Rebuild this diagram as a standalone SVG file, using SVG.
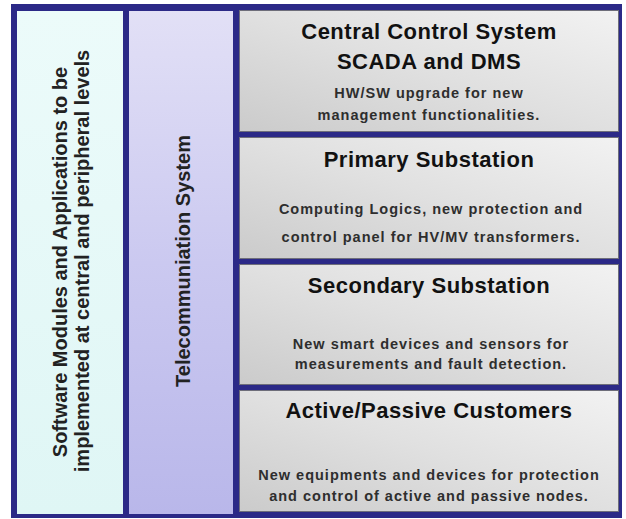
<svg xmlns="http://www.w3.org/2000/svg" width="626" height="519" viewBox="0 0 626 519">
<defs>
<linearGradient id="gBox" x1="0" y1="1" x2="1" y2="0">
<stop offset="0" stop-color="#cbcbcb"/>
<stop offset="0.5" stop-color="#e0e0e0"/>
<stop offset="1" stop-color="#f2f2f2"/>
</linearGradient>
<linearGradient id="gTel" x1="0" y1="0" x2="0" y2="1">
<stop offset="0" stop-color="#e2e0f6"/>
<stop offset="0.5" stop-color="#cbc9f0"/>
<stop offset="1" stop-color="#b9b7ea"/>
</linearGradient>
<linearGradient id="gSw" x1="0" y1="0" x2="0" y2="1">
<stop offset="0" stop-color="#ecfbfa"/>
<stop offset="1" stop-color="#dff6f5"/>
</linearGradient>
</defs>
<style>
.frame{fill:#2b2987}
.box{fill:url(#gBox);stroke:#6e6e7a;stroke-width:1}
.title{font-family:"Liberation Sans",Arial,sans-serif;font-weight:bold;font-size:22px;fill:#111;text-anchor:middle;letter-spacing:0.5px}
.desc{font-family:"Liberation Sans",Arial,sans-serif;font-weight:bold;font-size:14.5px;fill:#2e2e2e;text-anchor:middle;letter-spacing:1px}
.vt{font-family:"Liberation Sans",Arial,sans-serif;font-weight:bold;font-size:20px;fill:#222;text-anchor:middle}
</style>
<rect class="frame" x="11" y="4" width="611" height="514"/>
<g id="software-panel">
<rect x="17" y="11" width="106" height="503" fill="url(#gSw)"/>
<text class="vt" transform="translate(67,262) rotate(-90)">Software Modules and Applications to be</text>
<text class="vt" transform="translate(89,261) rotate(-90)">implemented at central and peripheral levels</text>
</g>
<g id="telecom-panel">
<rect x="129" y="11" width="104" height="503" fill="url(#gTel)"/>
<text class="vt" transform="translate(190,261) rotate(-90)">Telecommuniation System</text>
</g>
<g id="central-control">
<rect class="box" x="239.5" y="10.5" width="379" height="121"/>
<text class="title" x="429" y="39">Central Control System</text>
<text class="title" x="429" y="69">SCADA and DMS</text>
<text class="desc" x="429" y="98">HW/SW upgrade for new</text>
<text class="desc" x="429" y="120">management functionalities.</text>
</g>
<g id="primary-substation">
<rect class="box" x="239.5" y="137.5" width="379" height="121"/>
<text class="title" x="429" y="167">Primary Substation</text>
<text class="desc" x="431" y="214">Computing Logics, new protection and</text>
<text class="desc" x="431" y="242">control panel for HV/MV transformers.</text>
</g>
<g id="secondary-substation">
<rect class="box" x="239.5" y="264.5" width="379" height="120"/>
<text class="title" x="429" y="293">Secondary Substation</text>
<text class="desc" x="431" y="349">New smart devices and sensors for</text>
<text class="desc" x="431" y="369">measurements and fault detection.</text>
</g>
<g id="active-passive-customers">
<rect class="box" x="239.5" y="390.5" width="379" height="121"/>
<text class="title" x="429" y="418">Active/Passive Customers</text>
<text class="desc" x="429" y="480">New equipments and devices for protection</text>
<text class="desc" x="429" y="501">and control of active and passive nodes.</text>
</g>
<g id="connectors"></g>
</svg>
